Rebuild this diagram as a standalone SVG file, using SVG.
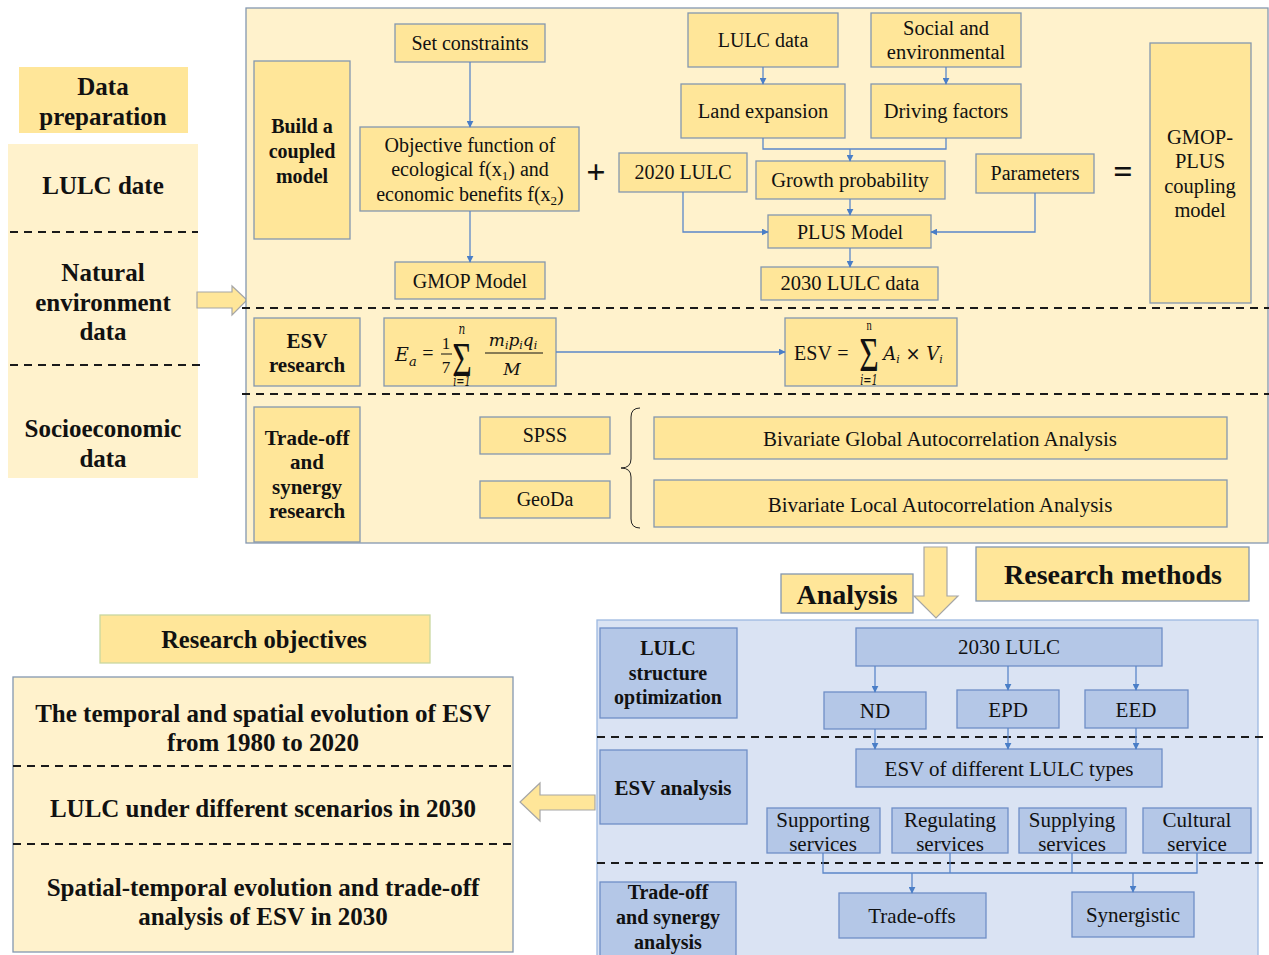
<svg xmlns="http://www.w3.org/2000/svg" width="1269" height="955" viewBox="0 0 1269 955">
<defs>
<marker id="ah" viewBox="0 0 10 10" refX="9" refY="5" markerWidth="7" markerHeight="7" orient="auto" markerUnits="userSpaceOnUse">
<path d="M0,0 L10,5 L0,10 z" fill="#4A7EC7"/>
</marker>
<style>
text{font-family:"Liberation Serif","Times New Roman",serif;fill:#111;text-anchor:middle}
.b{font-weight:bold}
.gold{fill:#FFE699;stroke:#8497B0;stroke-width:1.3}
.blue{fill:#B4C7E7;stroke:#6F8FC7;stroke-width:1.3}
.dash{stroke:#1a1a1a;stroke-width:2;stroke-dasharray:8 6;fill:none}
.con{stroke:#5B87C9;stroke-width:1.3;fill:none}
.arr{fill:#FFE699;stroke:#A6A6A6;stroke-width:1.2}
.t20{font-size:20px}.t205{font-size:20.5px}.t21{font-size:21px}.t24{font-size:24.5px}.t25{font-size:25px}.t28{font-size:28px}
.m{font-style:italic;font-family:"DejaVu Serif","Liberation Serif",serif}
</style>
</defs>
<rect width="1269" height="955" fill="#ffffff"/>

<!-- Left data preparation -->
<g id="data-preparation">
<rect x="19" y="67" width="169" height="66" fill="#FFE699"/>
<text class="b t25" x="103" y="95">Data</text>
<text class="b t25" x="103" y="125">preparation</text>
</g>
<g id="data-panel">
<rect x="8" y="144" width="190" height="334" fill="#FFF2CC"/>
<line class="dash" x1="10" y1="232" x2="198" y2="232"/>
<line class="dash" x1="10" y1="365" x2="200" y2="365"/>
<text class="b t25" x="103" y="194">LULC date</text>
<text class="b t25" x="103" y="281">Natural</text>
<text class="b t25" x="103" y="311">environment</text>
<text class="b t25" x="103" y="340">data</text>
<text class="b t25" x="103" y="437">Socioeconomic</text>
<text class="b t25" x="103" y="467">data</text>
</g>
<g id="arrow-right">
<path class="arr" d="M197,292 L232,292 L232,286 L247,300 L232,315 L232,308 L197,308 z"/>
</g>

<!-- Main research methods panel -->
<g id="methods-panel">
<rect x="246" y="8" width="1022" height="535" fill="#FFF2CC" stroke="#8497B0" stroke-width="1.3"/>
<line class="dash" x1="242" y1="308" x2="1269" y2="308"/>
<line class="dash" x1="242" y1="394" x2="1269" y2="394"/>
</g>

<g id="build-coupled">
<rect class="gold" x="254" y="61" width="96" height="178"/>
<text class="b t20" x="302" y="133">Build a</text>
<text class="b t20" x="302" y="158">coupled</text>
<text class="b t20" x="302" y="183">model</text>
</g>
<g id="set-constraints">
<rect class="gold" x="395" y="24" width="150" height="38"/>
<text class="t20" x="470" y="50">Set constraints</text>
</g>
<g id="objective">
<rect class="gold" x="360" y="127" width="219" height="84"/>
<text class="t20" x="470" y="152">Objective function of</text>
<text class="t20" x="470" y="176">ecological f(x<tspan font-size="13" dy="4">1</tspan><tspan dy="-4">) and</tspan></text>
<text class="t20" x="470" y="201">economic benefits f(x<tspan font-size="13" dy="4">2</tspan><tspan dy="-4">)</tspan></text>
</g>
<g id="gmop-model">
<rect class="gold" x="395" y="262" width="150" height="37"/>
<text class="t20" x="470" y="288">GMOP Model</text>
</g>
<g id="plus-sign"><text class="b" x="596" y="183" font-size="34">+</text></g>
<g id="lulc-data">
<rect class="gold" x="688" y="13" width="150" height="54"/>
<text class="t20" x="763" y="47">LULC  data</text>
</g>
<g id="social-env">
<rect class="gold" x="871" y="13" width="150" height="54"/>
<text class="t205" x="946" y="35">Social and</text>
<text class="t205" x="946" y="59">environmental</text>
</g>
<g id="land-expansion">
<rect class="gold" x="681" y="84" width="164" height="54"/>
<text class="t205" x="763" y="118">Land expansion</text>
</g>
<g id="driving-factors">
<rect class="gold" x="871" y="84" width="150" height="54"/>
<text class="t205" x="946" y="118">Driving factors</text>
</g>
<g id="lulc-2020">
<rect class="gold" x="619" y="153" width="128" height="39"/>
<text class="t20" x="683" y="179">2020 LULC</text>
</g>
<g id="growth">
<rect class="gold" x="756" y="161" width="189" height="38"/>
<text class="t205" x="850" y="187">Growth probability</text>
</g>
<g id="parameters">
<rect class="gold" x="976" y="154" width="118" height="39"/>
<text class="t20" x="1035" y="180">Parameters</text>
</g>
<g id="plus-model">
<rect class="gold" x="768" y="215" width="163" height="33"/>
<text class="t20" x="850" y="239">PLUS Model</text>
</g>
<g id="lulc-2030-data">
<rect class="gold" x="761" y="267" width="177" height="33"/>
<text class="t205" x="850" y="290">2030 LULC  data</text>
</g>
<g id="equals-sign"><text class="b" x="1123" y="183" font-size="34">=</text></g>
<g id="gmop-plus">
<rect class="gold" x="1150" y="43" width="101" height="260"/>
<text class="t205" x="1200" y="144">GMOP-</text>
<text class="t205" x="1200" y="168">PLUS</text>
<text class="t205" x="1200" y="193">coupling</text>
<text class="t205" x="1200" y="217">model</text>
</g>

<g id="esv-research">
<rect class="gold" x="254" y="318" width="106" height="68"/>
<text class="b t21" x="307" y="348">ESV</text>
<text class="b t21" x="307" y="372">research</text>
</g>
<g id="formula-ea">
<rect class="gold" x="384" y="318" width="172" height="68"/>
<text class="m" x="402" y="361" font-size="19">E</text>
<text class="m" x="413" y="366" font-size="13">a</text>
<text x="428" y="360" font-size="20">=</text>
<text x="446" y="349" font-size="17">1</text>
<line x1="441" y1="354" x2="452" y2="354" stroke="#111" stroke-width="1"/>
<text x="446" y="373" font-size="17">7</text>
<text transform="translate(462,0) scale(0.7,1)" x="0" y="376" font-size="48">Σ<tspan class="m" x="0" y="334" font-size="15">n</tspan><tspan class="m" x="0" y="386" font-size="14">i=1</tspan></text>
<text class="m" x="513" y="346" font-size="17">m<tspan font-size="11" dy="3">i</tspan><tspan dy="-3">p</tspan><tspan font-size="11" dy="3">i</tspan><tspan dy="-3">q</tspan><tspan font-size="11" dy="3">i</tspan></text>
<line x1="485" y1="353" x2="543" y2="353" stroke="#111" stroke-width="1"/>
<text class="m" x="512" y="375" font-size="17">M</text>
</g>
<g id="formula-esv">
<rect class="gold" x="785" y="318" width="172" height="68"/>
<text x="813" y="360" font-size="20">ESV</text>
<text x="843" y="360" font-size="20">=</text>
<text transform="translate(869,0) scale(0.7,1)" x="0" y="371" font-size="48">Σ<tspan x="0" y="330" font-size="15">n</tspan><tspan class="m" x="0" y="385" font-size="14">i=1</tspan></text>
<text class="m" x="913" y="360" font-size="18">A<tspan font-size="11" dy="3">i</tspan><tspan dy="-3" font-style="normal"> × </tspan>V<tspan font-size="11" dy="3">i</tspan></text>
</g>

<g id="tradeoff-research">
<rect class="gold" x="254" y="407" width="106" height="135"/>
<text class="b t21" x="307" y="445">Trade-off</text>
<text class="b t21" x="307" y="469">and</text>
<text class="b t21" x="307" y="494">synergy</text>
<text class="b t21" x="307" y="518">research</text>
</g>
<g id="spss">
<rect class="gold" x="480" y="417" width="130" height="37"/>
<text class="t20" x="545" y="442">SPSS</text>
</g>
<g id="geoda">
<rect class="gold" x="480" y="481" width="130" height="37"/>
<text class="t20" x="545" y="506">GeoDa</text>
</g>
<g id="brace">
<path d="M640,408 Q631,408 631,417 L631,459 Q631,468 621,468 Q631,468 631,477 L631,519 Q631,528 640,528" fill="none" stroke="#222" stroke-width="1"/>
</g>
<g id="bivariate-global">
<rect class="gold" x="654" y="417" width="573" height="42"/>
<text class="t21" x="940" y="446">Bivariate Global Autocorrelation Analysis</text>
</g>
<g id="bivariate-local">
<rect class="gold" x="654" y="480" width="573" height="47"/>
<text class="t21" x="940" y="512">Bivariate Local Autocorrelation Analysis</text>
</g>

<!-- Research methods / Analysis -->
<g id="research-methods">
<rect class="gold" x="976" y="547" width="273" height="54"/>
<text class="b t28" x="1113" y="584">Research  methods</text>
</g>
<g id="analysis">
<rect class="gold" x="781" y="574" width="132" height="39"/>
<text class="b t28" x="847" y="604">Analysis</text>
</g>
<g id="arrow-down">
<path class="arr" d="M924,547 L947,547 L947,596 L958,596 L936,618 L914,596 L924,596 z"/>
</g>

<!-- Analysis panel -->
<g id="analysis-panel">
<rect x="597" y="620" width="661" height="340" fill="#DAE3F3" stroke="#9DB9E0" stroke-width="1.3"/>
<line class="dash" x1="597" y1="737" x2="1269" y2="737"/>
<line class="dash" x1="597" y1="863" x2="1269" y2="863"/>
</g>
<g id="lulc-structure">
<rect class="blue" x="600" y="628" width="137" height="90"/>
<text class="b t20" x="668" y="655">LULC</text>
<text class="b t20" x="668" y="680">structure</text>
<text class="b t20" x="668" y="704">optimization</text>
</g>
<g id="lulc-2030">
<rect class="blue" x="856" y="628" width="306" height="38"/>
<text class="t21" x="1009" y="654">2030 LULC</text>
</g>
<g id="nd">
<rect class="blue" x="824" y="692" width="102" height="37"/>
<text class="t21" x="875" y="718">ND</text>
</g>
<g id="epd">
<rect class="blue" x="957" y="690" width="102" height="38"/>
<text class="t21" x="1008" y="717">EPD</text>
</g>
<g id="eed">
<rect class="blue" x="1085" y="690" width="103" height="38"/>
<text class="t21" x="1136" y="717">EED</text>
</g>
<g id="esv-analysis">
<rect class="blue" x="600" y="750" width="147" height="74"/>
<text class="b t21" x="673" y="795">ESV  analysis</text>
</g>
<g id="esv-types">
<rect class="blue" x="856" y="749" width="306" height="38"/>
<text class="t21" x="1009" y="776">ESV of different LULC types</text>
</g>
<g id="supporting">
<rect class="blue" x="767" y="808" width="113" height="45"/>
<text class="t21" x="823" y="827">Supporting</text>
<text class="t21" x="823" y="851">services</text>
</g>
<g id="regulating">
<rect class="blue" x="892" y="808" width="116" height="45"/>
<text class="t21" x="950" y="827">Regulating</text>
<text class="t21" x="950" y="851">services</text>
</g>
<g id="supplying">
<rect class="blue" x="1019" y="808" width="107" height="45"/>
<text class="t21" x="1072" y="827">Supplying</text>
<text class="t21" x="1072" y="851">services</text>
</g>
<g id="cultural">
<rect class="blue" x="1143" y="808" width="108" height="45"/>
<text class="t21" x="1197" y="827">Cultural</text>
<text class="t21" x="1197" y="851">service</text>
</g>
<g id="tradeoff-analysis">
<rect class="blue" x="600" y="882" width="136" height="76"/>
<text class="b t20" x="668" y="899">Trade-off</text>
<text class="b t20" x="668" y="924">and synergy</text>
<text class="b t20" x="668" y="949">analysis</text>
</g>
<g id="tradeoffs">
<rect class="blue" x="839" y="893" width="147" height="45"/>
<text class="t21" x="912" y="923">Trade-offs</text>
</g>
<g id="synergistic">
<rect class="blue" x="1072" y="892" width="122" height="45"/>
<text class="t21" x="1133" y="922">Synergistic</text>
</g>

<!-- Research objectives -->
<g id="research-objectives">
<rect x="100" y="615" width="330" height="48" fill="#FFE699" stroke="#C9D7A0" stroke-width="1.3"/>
<text class="b t24" x="264" y="648">Research  objectives</text>
</g>
<g id="objectives-panel">
<rect x="13" y="677" width="500" height="275" fill="#FFF2CC" stroke="#8497B0" stroke-width="1.3"/>
<line class="dash" x1="13" y1="766" x2="513" y2="766"/>
<line class="dash" x1="13" y1="844" x2="513" y2="844"/>
<text class="b t25" x="263" y="722">The temporal and spatial evolution of ESV</text>
<text class="b t25" x="263" y="751">from 1980 to 2020</text>
<text class="b t25" x="263" y="817">LULC under different scenarios in 2030</text>
<text class="b t25" x="263" y="896">Spatial-temporal evolution and trade-off</text>
<text class="b t25" x="263" y="925">analysis of ESV in 2030</text>
</g>
<g id="arrow-left">
<path class="arr" d="M595,795 L540,795 L540,783 L520,802 L540,821 L540,810 L595,810 z"/>
</g>

<!-- Connectors -->
<g id="connectors">
<line class="con" x1="470" y1="62" x2="470" y2="127" marker-end="url(#ah)"/>
<line class="con" x1="470" y1="211" x2="470" y2="262" marker-end="url(#ah)"/>
<line class="con" x1="763" y1="67" x2="763" y2="84" marker-end="url(#ah)"/>
<line class="con" x1="946" y1="67" x2="946" y2="84" marker-end="url(#ah)"/>
<polyline class="con" points="763,138 763,149 946,149 946,138"/>
<line class="con" x1="850" y1="149" x2="850" y2="161" marker-end="url(#ah)"/>
<line class="con" x1="850" y1="199" x2="850" y2="215" marker-end="url(#ah)"/>
<line class="con" x1="850" y1="248" x2="850" y2="267" marker-end="url(#ah)"/>
<polyline class="con" points="683,192 683,232 768,232" marker-end="url(#ah)"/>
<polyline class="con" points="1035,193 1035,232 931,232" marker-end="url(#ah)"/>
<line class="con" x1="556" y1="352" x2="785" y2="352" marker-end="url(#ah)"/>
<line class="con" x1="875" y1="666" x2="875" y2="692" marker-end="url(#ah)"/>
<line class="con" x1="1008" y1="666" x2="1008" y2="690" marker-end="url(#ah)"/>
<line class="con" x1="1136" y1="666" x2="1136" y2="690" marker-end="url(#ah)"/>
<line class="con" x1="875" y1="729" x2="875" y2="749" marker-end="url(#ah)"/>
<line class="con" x1="1008" y1="728" x2="1008" y2="749" marker-end="url(#ah)"/>
<line class="con" x1="1136" y1="728" x2="1136" y2="749" marker-end="url(#ah)"/>
<polyline class="con" points="823,853 823,873 1197,873 1197,853"/>
<line class="con" x1="950" y1="853" x2="950" y2="873"/>
<line class="con" x1="1072" y1="853" x2="1072" y2="873"/>
<line class="con" x1="912" y1="873" x2="912" y2="893" marker-end="url(#ah)"/>
<line class="con" x1="1133" y1="873" x2="1133" y2="892" marker-end="url(#ah)"/>
</g>
</svg>
